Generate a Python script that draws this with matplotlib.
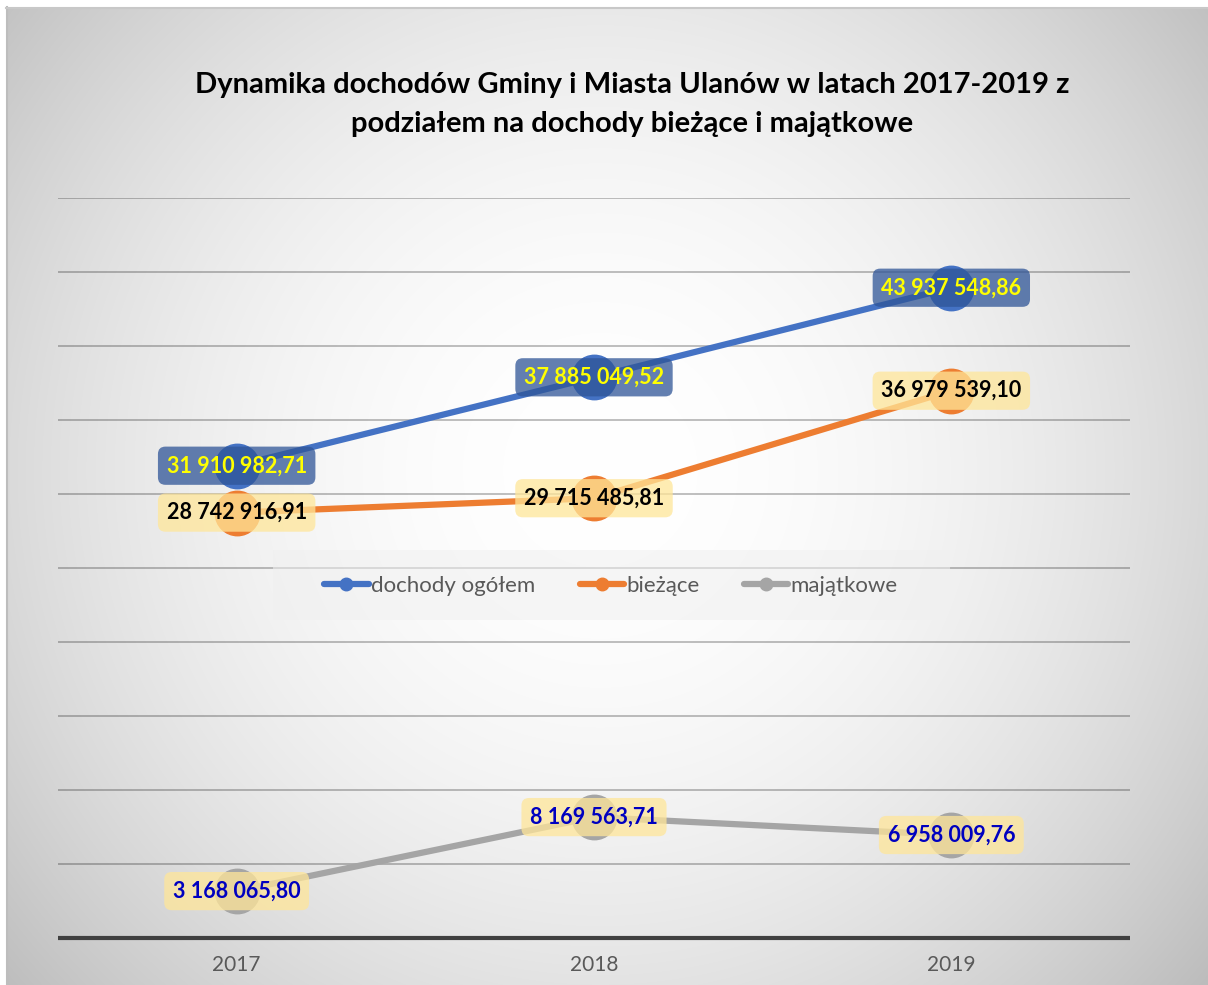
import numpy as np
import matplotlib.pyplot as plt
from matplotlib.patches import Rectangle

plt.rcParams['font.family'] = ['Lato', 'DejaVu Sans']

years = ['2017', '2018', '2019']
ogolem = [31910982.71, 37885049.52, 43937548.86]
biezace = [28742916.91, 29715485.81, 36979539.10]
majatkowe = [3168065.80, 8169563.71, 6958009.76]
series_names = ['dochody ogółem', 'bieżące', 'majątkowe']


def fmt(v):
    s = f'{v:,.2f}'
    return s.replace(',', ' ').replace('.', ',')


W, H = 1208, 985
fig = plt.figure(figsize=(W / 100, H / 100), dpi=100)
fig.patch.set_facecolor('white')

# radial grey background
bg = fig.add_axes([0, 0, 1, 1], zorder=-10)
yy, xx = np.mgrid[0:H, 0:W]
d = np.hypot(xx - 600, yy - 470) / 760.0
val = 1.0 - 0.24 * np.clip(d, 0, 1.2) ** 2
img = np.dstack([val, val, val])
img[:7, :, :] = 1.0
img[:, :6, :] = 1.0
bg.imshow(img, extent=[0, W, H, 0], aspect='auto', interpolation='bilinear')
bg.plot([6.5, 6.5], [7, H], color='#bdbdbd', lw=1.5)
bg.plot([6, W], [7.5, 7.5], color='#c8c8c8', lw=1.5)
bg.set_xlim(0, W)
bg.set_ylim(H, 0)
bg.axis('off')

ax = fig.add_axes([58 / W, 1 - 938 / H, (1130 - 58) / W, (938 - 198) / H])
ax.patch.set_alpha(0)
x = np.arange(len(years))
ax.set_xlim(-0.5, 2.5)
ax.set_ylim(0, 50000000)
ax.set_yticks(np.arange(5000000, 50000001, 5000000))
ax.yaxis.grid(True, color='black', alpha=0.25, lw=1.4)
ax.set_axisbelow(True)
ax.tick_params(axis='y', left=False, labelleft=False)
ax.set_xticks(x)
ax.set_xticklabels(years, fontsize=15, color='#595959')
ax.tick_params(axis='x', length=0, pad=12)
for s in ['top', 'right', 'left']:
    ax.spines[s].set_visible(False)
ax.spines['bottom'].set_color('#404040')
ax.spines['bottom'].set_linewidth(3)
ax.spines['bottom'].set_capstyle('butt')

colors = ['#4472c4', '#ed7d31', '#a5a5a5']
data = [ogolem, biezace, majatkowe]
box_colors = ['#2f5597', '#ffe699', '#ffe699']
text_colors = ['#ffff00', 'black', '#0000c0']

for vals, c in zip(data, colors):
    ax.plot(x, vals, color=c, lw=4.5, solid_capstyle='round', zorder=3)
    ax.plot(x, vals, 'o', color=c, ms=32, mec=c, zorder=4)

for vals, bc, tc in zip(data, box_colors, text_colors):
    for xi, v in zip(x, vals):
        ax.text(xi, v, fmt(v), ha='center', va='center', fontsize=15.5,
                fontweight='bold', color=tc, zorder=6,
                bbox=dict(boxstyle='round,pad=0.4,rounding_size=0.35',
                          fc=bc, ec='none', alpha=0.75))

# legend
fig.patches.append(Rectangle((273 / W, 1 - 620 / H), (950 - 273) / W, 70 / H,
                             transform=fig.transFigure, fc='#f0f0f0',
                             ec='none', alpha=0.55, zorder=1))
handles = [plt.Line2D([], [], color=c, lw=4.5, marker='o', ms=9,
                      solid_capstyle='round') for c in colors]
leg = fig.legend(handles, series_names, loc='center', ncol=3,
                 bbox_to_anchor=(611 / W, 1 - 586 / H), frameon=False,
                 fontsize=16, handlelength=2.0, handletextpad=0.1,
                 columnspacing=2.0)
for t in leg.get_texts():
    t.set_color('#595959')

fig.text(632 / W, 1 - 85 / H,
         'Dynamika dochodów Gminy i Miasta Ulanów w latach 2017-2019 z',
         ha='center', va='center', fontsize=21, fontweight='bold')
fig.text(632 / W, 1 - 124 / H, 'podziałem na dochody bieżące i majątkowe',
         ha='center', va='center', fontsize=21, fontweight='bold')

fig.savefig('out.png', dpi=100)
